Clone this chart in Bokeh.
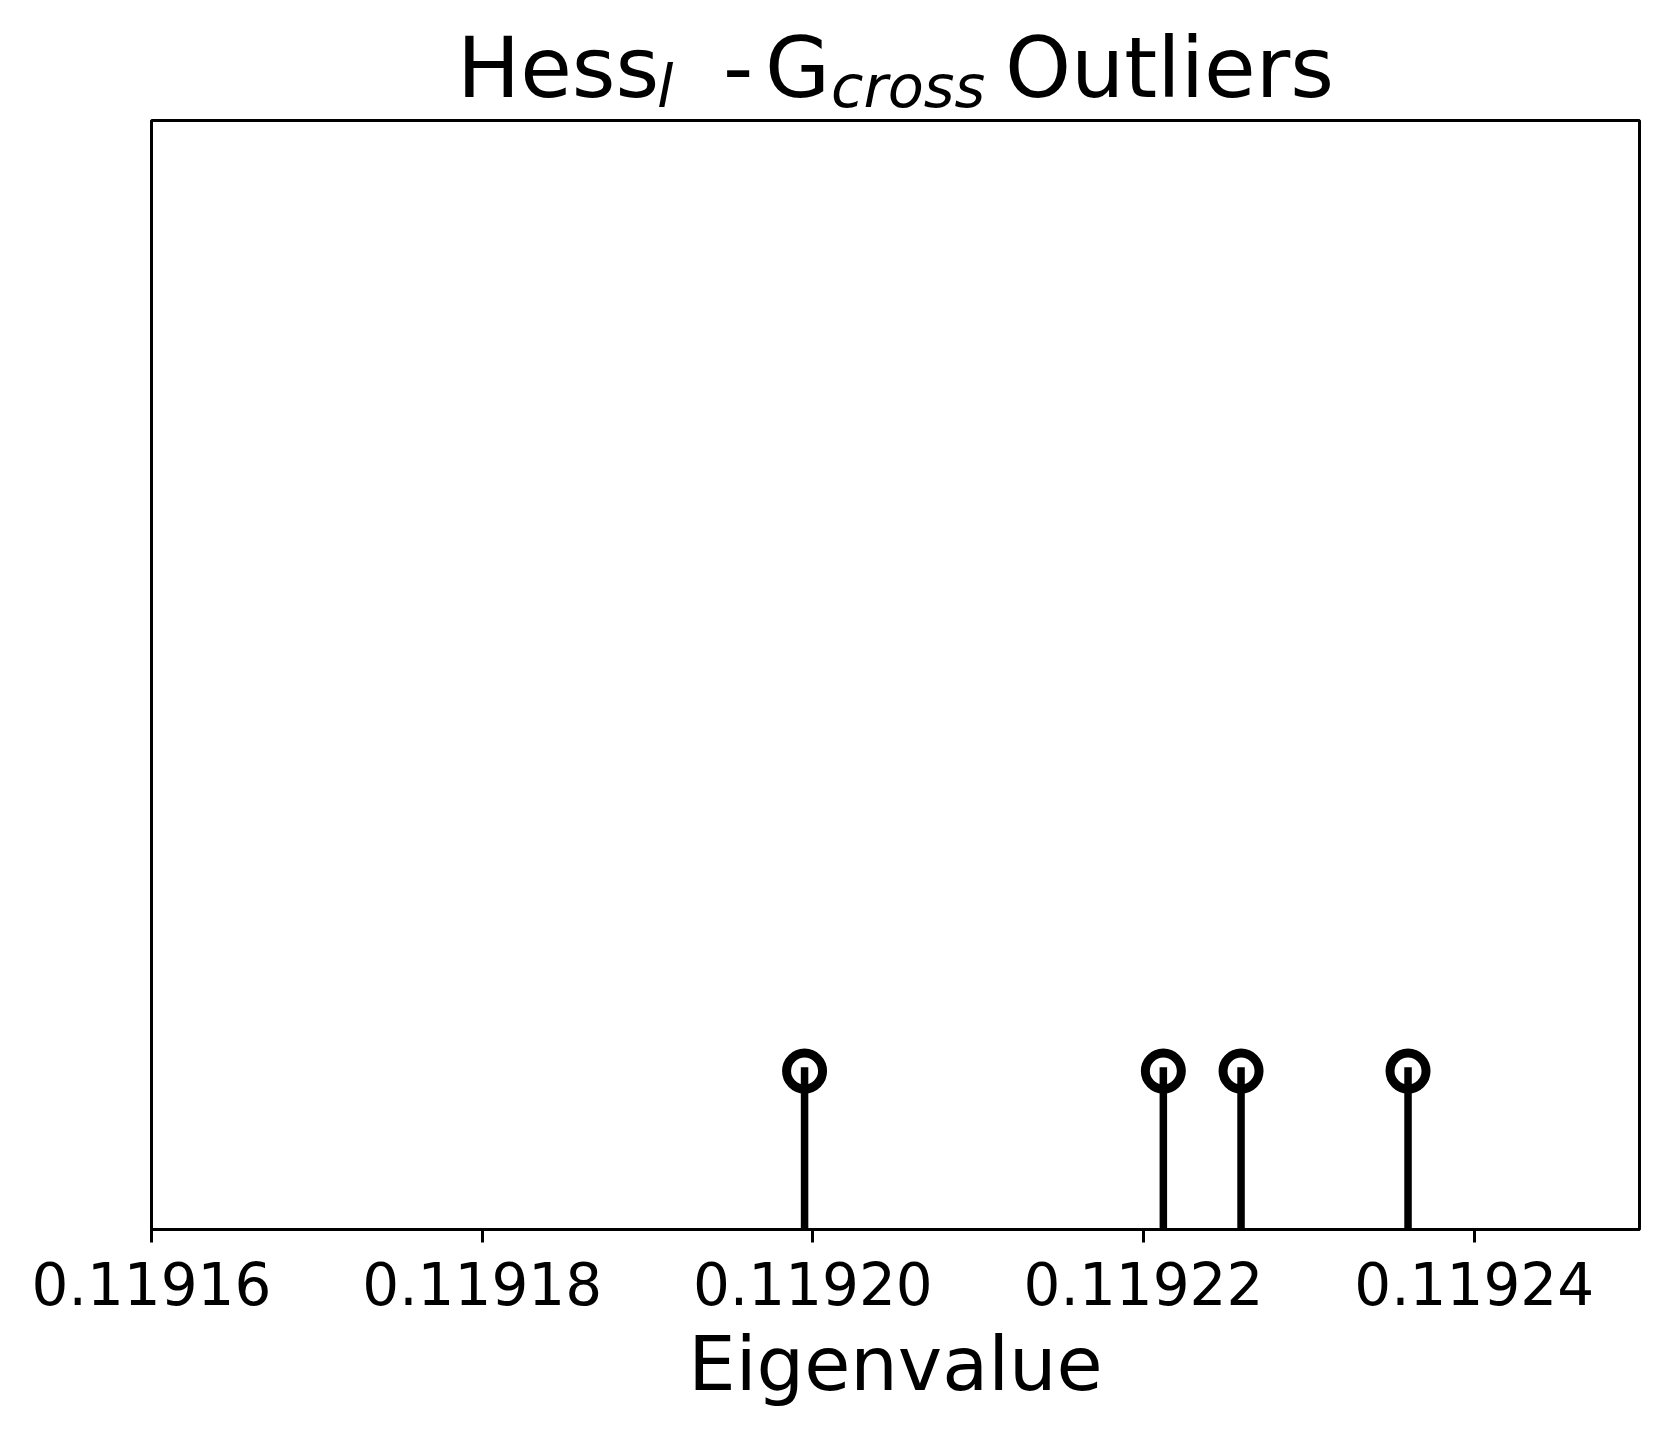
from bokeh.plotting import figure
from bokeh.models import FixedTicker, PrintfTickFormatter, Range1d, Div
from bokeh.layouts import column
from bokeh.embed import file_html
from bokeh.resources import INLINE

# ---- data ----
eigenvalues = [0.1191995, 0.1192212, 0.1192259, 0.1192360]
heights = [1, 1, 1, 1]
x_ticks = [0.11916, 0.11918, 0.11920, 0.11922, 0.11924]
x_label = "Eigenvalue"
title_parts = ["Hess", "l", "-", "G", "cross", "Outliers"]
title_is_sub = [False, True, False, False, True, False]

FONT = "DejaVu Sans"
W = 1652
TH = 115                      # title strip height
H = 1419 - TH
BL, BR, BT, BB = 151, 13, 5, 190

# ---- title strip: SVG text (mathtext-like: Hess_l - G_cross Outliers) ----
tx = [457, 657, 723, 765, 831, 1005]
pieces = []
for txt, x, sub in zip(title_parts, tx, title_is_sub):
    pieces.append(
        '<text x="%d" y="%d" style="font-family:\'%s\'; font-size:%dpx; '
        'font-style:%s; font-weight:normal; fill:#000000">%s</text>'
        % (x, 107 if sub else 97, FONT, 59 if sub else 84,
           "italic" if sub else "normal", txt))
svg = ('<svg xmlns="http://www.w3.org/2000/svg" width="%d" height="%d" '
       'style="display:block; overflow:visible">%s</svg>' % (W, TH, "".join(pieces)))
title_div = Div(text=svg, width=W, height=TH, margin=(0, 0, 0, 0))

# ---- main plot ----
p = figure(width=W, height=H, output_backend="svg", toolbar_location=None,
           x_range=Range1d(0.11916, 0.11925), y_range=Range1d(0, 7),
           y_axis_location=None, min_border_left=BL, min_border_right=BR,
           min_border_top=BT, min_border_bottom=BB, margin=(0, 0, 0, 0))
p.grid.visible = False
p.outline_line_color = "black"
p.outline_line_width = 3
p.background_fill_color = "white"
p.border_fill_color = "white"

ax = p.xaxis[0]
ax.ticker = FixedTicker(ticks=x_ticks)
ax.formatter = PrintfTickFormatter(format="%.5f")
ax.axis_line_width = 3
ax.major_tick_line_width = 3
ax.major_tick_out = 13
ax.major_tick_in = 0
ax.minor_tick_line_color = None
ax.major_label_text_font = FONT
ax.major_label_text_font_size = "58px"
ax.major_label_text_color = "black"
ax.major_label_standoff = 19
ax.axis_label = x_label
ax.axis_label_text_font = FONT
ax.axis_label_text_font_size = "75px"
ax.axis_label_text_font_style = "normal"
ax.axis_label_text_color = "black"
ax.axis_label_standoff = 12

# stems
p.segment(x0=eigenvalues, y0=[0] * len(eigenvalues), x1=eigenvalues, y1=heights,
          line_color="black", line_width=7.5, line_cap="square")
# markers
p.scatter(x=eigenvalues, y=heights, marker="circle", size=36,
          fill_color=None, line_color="black", line_width=9)

layout = column(title_div, p, spacing=0)
open("out.html", "w").write(file_html(layout, INLINE))
